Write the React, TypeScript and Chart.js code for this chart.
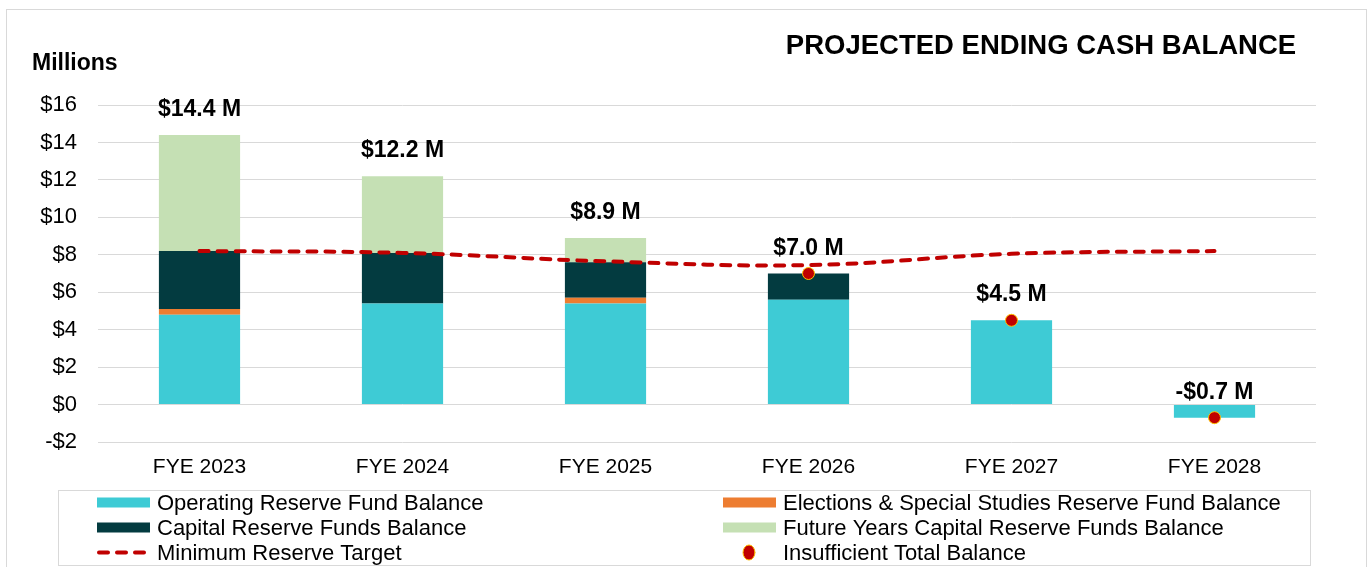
import React, { useEffect, useRef } from "react";
import { Chart, registerables } from "chart.js";

Chart.register(...registerables);

// ---------- DATA ----------
const categories = ["FYE 2023", "FYE 2024", "FYE 2025", "FYE 2026", "FYE 2027", "FYE 2028"];
const operatingReserve = [4.8, 5.4, 5.4, 5.6, 4.5, -0.7];
const electionsReserve = [0.3, 0, 0.3, 0, 0, 0];
const capitalReserve = [3.1, 2.7, 1.9, 1.4, 0, 0];
const futureCapitalReserve = [6.2, 4.1, 1.3, 0, 0, 0];
const minimumReserveTarget = [8.2, 8.1, 7.65, 7.45, 8.05, 8.2];
const insufficientBalance: (number | null)[] = [null, null, null, 7.0, 4.5, -0.7];
const yMin = -2;
const yMax = 16;
const yStep = 2;

const seriesLabels = [
  "Operating Reserve Fund Balance",
  "Elections & Special Studies Reserve Fund Balance",
  "Capital Reserve Funds Balance",
  "Future Years Capital Reserve Funds Balance",
  "Minimum Reserve Target",
  "Insufficient Total Balance",
];

const TITLE = "PROJECTED ENDING CASH BALANCE";
const UNIT = "Millions";
const FONT = "'Liberation Sans', Arial, sans-serif";

const COLORS = {
  operating: "#3ECBD5",
  elections: "#ED7D31",
  capital: "#033B40",
  future: "#C5E0B4",
  line: "#C00000",
  pointBorder: "#FFC000",
  grid: "#D9D9D9",
};

const money = (v: number) => (v < 0 ? "-$" + Math.abs(v) : "$" + v);
const moneyM = (v: number) => (v < 0 ? "-$" + Math.abs(v).toFixed(1) : "$" + v.toFixed(1)) + " M";

const decorPlugin = {
  id: "decor",
  beforeDraw(chart: any) {
    const ctx = chart.ctx;
    ctx.save();
    ctx.fillStyle = "#fff";
    ctx.fillRect(0, 0, chart.width, chart.height);
    ctx.strokeStyle = COLORS.grid;
    ctx.lineWidth = 1;
    ctx.strokeRect(6.5, 9.5, 1360, 600);
    ctx.restore();
  },
  afterDatasetsDraw(chart: any) {
    const ctx = chart.ctx;
    const xs = chart.scales.x;
    const ys = chart.scales.y;
    const bars = [0, 1, 2, 3].map((i) => chart.data.datasets[i].data as number[]);
    ctx.save();
    ctx.fillStyle = "#000";
    ctx.font = `bold 23px ${FONT}`;
    ctx.textAlign = "center";
    ctx.textBaseline = "alphabetic";
    categories.forEach((_, i) => {
      const total = Math.round(bars.reduce((s, d) => s + (d[i] || 0), 0) * 10) / 10;
      const x = xs.getPixelForValue(i);
      const y = ys.getPixelForValue(total);
      ctx.fillText(moneyM(total), x, y - 19);
    });
    ctx.restore();
  },
  afterDraw(chart: any) {
    const ctx = chart.ctx;
    const ds = chart.data.datasets;
    ctx.save();
    // title
    ctx.fillStyle = "#000";
    ctx.font = `bold 27.5px ${FONT}`;
    ctx.textAlign = "center";
    ctx.textBaseline = "alphabetic";
    ctx.fillText(TITLE, 1041, 54);
    ctx.font = `bold 23px ${FONT}`;
    ctx.textAlign = "left";
    ctx.fillText(UNIT, 32, 70);

    // legend box
    ctx.strokeStyle = COLORS.grid;
    ctx.lineWidth = 1;
    ctx.strokeRect(58.5, 490.5, 1252, 75);

    const cols = [97, 723];
    const textX = [157, 783];
    const rows = [502.5, 527.5, 552.5];
    const order = [0, 1, 2, 3, 4, 5];
    ctx.font = `22px ${FONT}`;
    order.forEach((di, k) => {
      const c = k % 2;
      const r = Math.floor(k / 2);
      const d = ds[di];
      const cy = rows[r];
      if (di <= 3) {
        ctx.fillStyle = d.backgroundColor;
        ctx.fillRect(cols[c], cy - 5, 53, 10);
      } else if (di === 4) {
        ctx.strokeStyle = d.borderColor;
        ctx.lineWidth = 4;
        ctx.lineCap = "round";
        ctx.setLineDash([9, 9]);
        ctx.beginPath();
        ctx.moveTo(cols[c] + 2, cy);
        ctx.lineTo(cols[c] + 50, cy);
        ctx.stroke();
        ctx.setLineDash([]);
      } else {
        ctx.fillStyle = d.pointBackgroundColor;
        ctx.strokeStyle = d.pointBorderColor;
        ctx.lineWidth = 1;
        ctx.beginPath();
        ctx.ellipse(cols[c] + 26, cy, 6, 7.5, 0, 0, Math.PI * 2);
        ctx.fill();
        ctx.stroke();
      }
      ctx.fillStyle = "#000";
      ctx.fillText(d.label, textX[c], cy + 7.9);
    });
    ctx.restore();
  },
};

export default function App() {
  const ref = useRef<HTMLCanvasElement | null>(null);

  useEffect(() => {
    if (!ref.current) return;
    const barCommon = {
      type: "bar" as const,
      stack: "funds",
      borderWidth: 0,
      barPercentage: 0.4,
      categoryPercentage: 1,
      order: 3,
    };
    const chart = new Chart(ref.current, {
      type: "bar",
      data: {
        labels: categories,
        datasets: [
          { ...barCommon, label: seriesLabels[0], data: operatingReserve, backgroundColor: COLORS.operating },
          { ...barCommon, label: seriesLabels[1], data: electionsReserve, backgroundColor: COLORS.elections },
          { ...barCommon, label: seriesLabels[2], data: capitalReserve, backgroundColor: COLORS.capital },
          { ...barCommon, label: seriesLabels[3], data: futureCapitalReserve, backgroundColor: COLORS.future },
          {
            type: "line",
            label: seriesLabels[4],
            data: minimumReserveTarget,
            stack: "target",
            borderColor: COLORS.line,
            backgroundColor: COLORS.line,
            borderWidth: 4,
            borderDash: [9, 9],
            borderCapStyle: "round",
            tension: 0.4,
            pointRadius: 0,
            fill: false,
            order: 2,
          } as any,
          {
            type: "line",
            label: seriesLabels[5],
            data: insufficientBalance,
            stack: "insufficient",
            showLine: false,
            pointRadius: 6,
            pointBackgroundColor: COLORS.line,
            pointBorderColor: COLORS.pointBorder,
            pointBorderWidth: 1,
            borderColor: COLORS.line,
            backgroundColor: COLORS.line,
            order: 1,
          } as any,
        ],
      },
      options: {
        responsive: false,
        maintainAspectRatio: false,
        animation: false,
        layout: { padding: { left: 20, right: 53, top: 105, bottom: 85 } },
        plugins: {
          legend: { display: false },
          title: { display: false },
          tooltip: { enabled: false },
        },
        scales: {
          x: {
            stacked: true,
            grid: { display: false, drawTicks: false },
            border: { display: false },
            ticks: { color: "#000", font: { family: FONT, size: 21 }, padding: 13 },
            afterFit: (s: any) => {
              s.height = 40;
            },
          },
          y: {
            stacked: true,
            min: yMin,
            max: yMax,
            grid: { color: COLORS.grid, lineWidth: 1, drawTicks: false },
            border: { display: false },
            ticks: {
              stepSize: yStep,
              color: "#000",
              font: { family: FONT, size: 22 },
              padding: 21,
              callback: (v: any) => money(Number(v)),
            },
            afterFit: (s: any) => {
              s.width = 78;
            },
          },
        },
      },
      plugins: [decorPlugin],
    });
    return () => chart.destroy();
  }, []);

  return (
    <div style={{ position: "absolute", left: 0, top: 0, width: 1369, height: 567, background: "#fff" }}>
      <canvas ref={ref} width={1369} height={567} style={{ display: "block", width: 1369, height: 567 }} />
    </div>
  );
}
